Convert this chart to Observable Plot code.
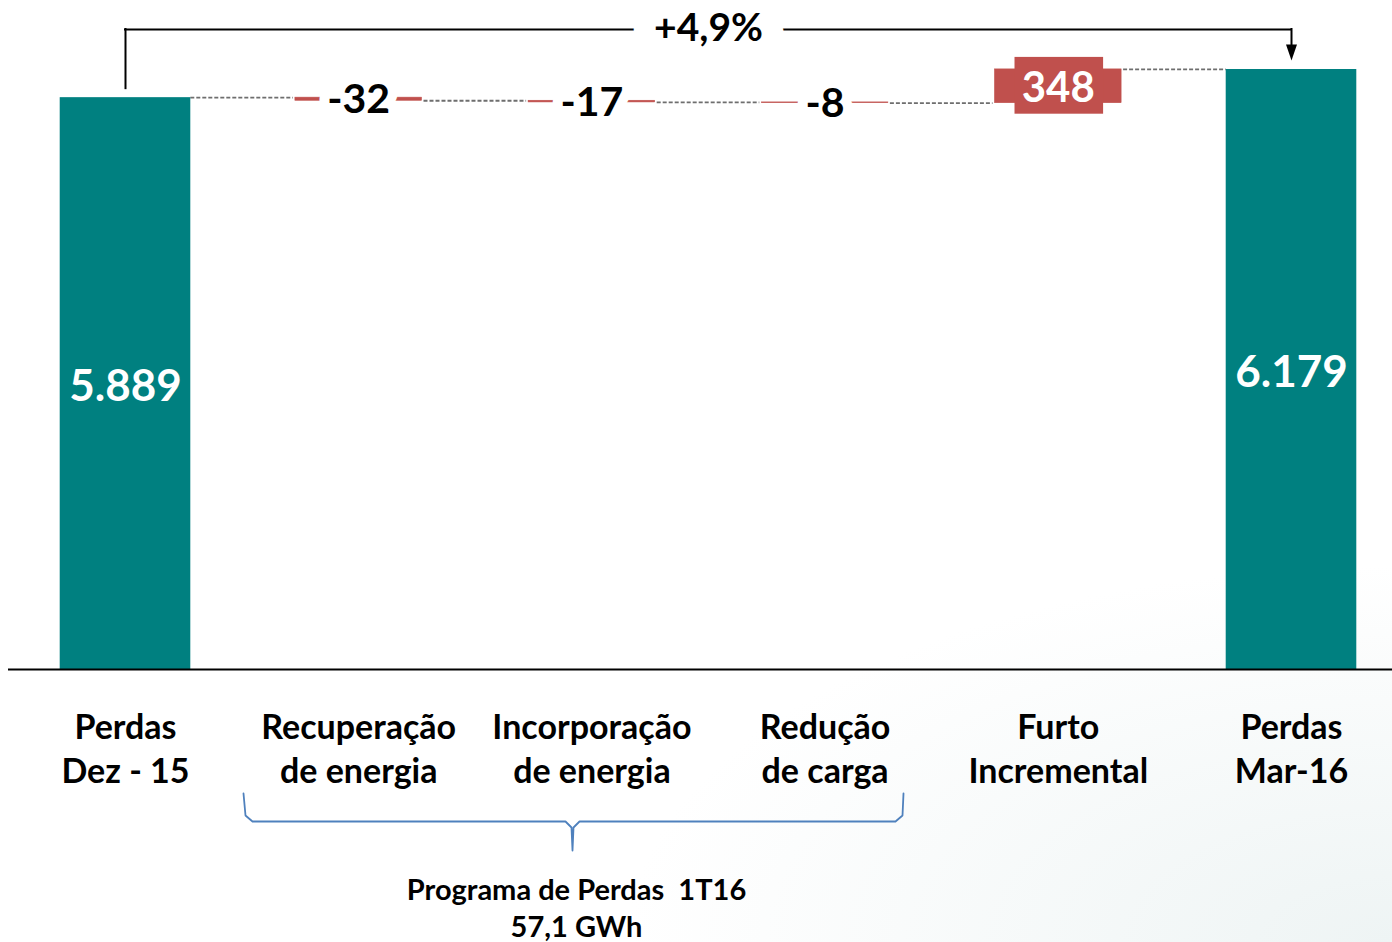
<!DOCTYPE html>
<html><head><meta charset="utf-8">
<script src="https://cdn.jsdelivr.net/npm/d3@7"></script>
<script src="https://cdn.jsdelivr.net/npm/@observablehq/plot@0.6"></script>
<style>
html,body{margin:0;padding:0;background:#fff;}
#chart{width:1392px;height:942px;background:radial-gradient(ellipse 55% 40% at 100% 100%, #eef4f4 0%, #ffffff 100%);}
svg{display:block}
</style></head><body><div id="chart"></div>
<script>
// ---- data ----
const categories = ["Perdas\nDez - 15", "Recuperação\nde energia", "Incorporação\nde energia", "Redução\nde carga", "Furto\nIncremental", "Perdas\nMar-16"];
const values = [5889, -32, -17, -8, 348, 6179];
const kinds = ["total", "change", "change", "change", "change", "total"];
const valueLabels = ["5.889", "-32", "-17", "-8", "348", "6.179"];
const variationLabel = "+4,9%";
const programLabel = "Programa de Perdas  1T16\n57,1 GWh";

// ---- derived waterfall table ----
let run = 0;
const rows = categories.map((c, i) => {
  let y1, y2;
  if (kinds[i] === "total") { y1 = 0; y2 = values[i]; }
  else { y1 = run; y2 = run + values[i]; }
  run = y2;
  return {i, c, kind: kinds[i], y1, y2, mid: (y1 + y2) / 2, label: valueLabels[i], value: values[i]};
});
const half = 0.28;
const connectors = rows.slice(0, -1).map((r, i) => ({x1: i + half, x2: i + 1 - half, y: r.y2}));
const totals = rows.filter(d => d.kind === "total");
const changes = rows.filter(d => d.kind === "change");
const negatives = changes.filter(d => d.value < 0);
const positives = changes.filter(d => d.value > 0);

const yTop = 69, yBase = 669;
const pxPerUnit = (yBase - yTop) / values[5];
const bracketLevel = values[5] + 40 / pxPerUnit;
const u = px => -px / pxPerUnit; // pixel offset below baseline -> value units
const iFirst = 0, iLast = categories.length - 1;

// curly brace under the program categories
const bx = px => (px - 125) / 233.2;
const brace = [
  [243, 793], [245, 815], [252, 821], [565, 821], [571, 827], [572, 850],
  [573, 827], [579, 821], [895, 821], [902, 815], [903, 793]
].map(([x, y]) => ({x: bx(x), y: u(y - yBase)}));

const arrowDown = {draw(ctx) { ctx.moveTo(-5.5, -8); ctx.lineTo(5.5, -8); ctx.lineTo(0, 8); ctx.closePath(); }};

const teal = "#008080", red = "#c0504d";
const font = "Lato, 'Open Sans', sans-serif";

const chart = Plot.plot({
  width: 1392, height: 942,
  marginLeft: 8, marginRight: 0, marginTop: 0, marginBottom: 0,
  style: {background: "transparent", fontFamily: font, overflow: "visible"},
  x: {type: "linear", domain: [-0.5, 5.5], range: [8.4, 1407.6], axis: null},
  y: {domain: [0, values[5]], range: [yBase, yTop], axis: null},
  marks: [
    Plot.ruleY(connectors, {x1: "x1", x2: "x2", y: "y", stroke: "#6e6e6e", strokeWidth: 1.8, strokeDasharray: "4,2"}),
    Plot.rectY(totals, {x1: d => d.i - half, x2: d => d.i + half, y1: "y1", y2: "y2", fill: teal}),
    Plot.rectY(changes, {x1: d => d.i - half, x2: d => d.i + half, y1: "y1", y2: "y2", fill: red, stroke: red, strokeWidth: 0.6,
      insetLeft: 2, insetRight: 2}),
    Plot.rectY(positives, {x1: d => d.i - half, x2: d => d.i + half, y1: "y1", y2: "y2", fill: red,
      insetLeft: 22, insetRight: 20, insetTop: -12, insetBottom: -11}),
    Plot.ruleY([0], {stroke: "black", strokeWidth: 2}),
    Plot.text(totals, {x: "i", y: d => d.y2 / 2, text: "label", fill: "white", fontSize: 44, fontWeight: "bold", dy: 3}),
    Plot.text(negatives, {x: "i", y: "mid", text: "label", fill: "black", stroke: "white", strokeWidth: 20,
      paintOrder: "stroke", strokeLinejoin: "round", fontSize: 41, fontWeight: "bold", dy: 1}),
    Plot.text(positives, {x: "i", y: "mid", text: "label", fill: "white", fontSize: 42, fontWeight: "bold", dy: 2}),
    Plot.text(rows, {x: "i", y: 0, text: "c", dy: 77, lineAnchor: "middle", lineHeight: 1.3,
      fontSize: 34, fontWeight: "bold", fill: "black"}),
    // variation bracket
    Plot.ruleX([{x: iFirst, y1: bracketLevel, y2: values[0]}], {x: "x", y1: "y1", y2: "y2", stroke: "black", strokeWidth: 2, insetBottom: 9, strokeLinecap: "square"}),
    Plot.ruleY([{y: bracketLevel, x1: iFirst, x2: iLast}], {y: "y", x1: "x1", x2: "x2", stroke: "black", strokeWidth: 2, strokeLinecap: "square"}),
    Plot.ruleX([{x: iLast, y1: bracketLevel, y2: values[5]}], {x: "x", y1: "y1", y2: "y2", stroke: "black", strokeWidth: 2, insetBottom: 24, strokeLinecap: "square"}),
    Plot.dot([{x: iLast, y: values[5]}], {x: "x", y: "y", symbol: arrowDown, fill: "black", dy: -17}),
    Plot.text([variationLabel], {x: (iFirst + iLast) / 2, y: bracketLevel, text: d => d, fill: "black", stroke: "white",
      strokeWidth: 44, paintOrder: "stroke", strokeLinejoin: "round", fontSize: 39, fontWeight: "bold", dy: -1}),
    // program brace
    Plot.line(brace, {x: "x", y: "y", stroke: "#4f81bd", strokeWidth: 1.8, curve: "linear"}),
    Plot.text([programLabel], {x: bx(576), y: u(906 - yBase), text: d => d, lineAnchor: "middle", lineHeight: 1.3,
      fontSize: 29, fontWeight: "bold", fill: "black"})
  ]
});
document.getElementById("chart").appendChild(chart);
</script>
</body></html>
